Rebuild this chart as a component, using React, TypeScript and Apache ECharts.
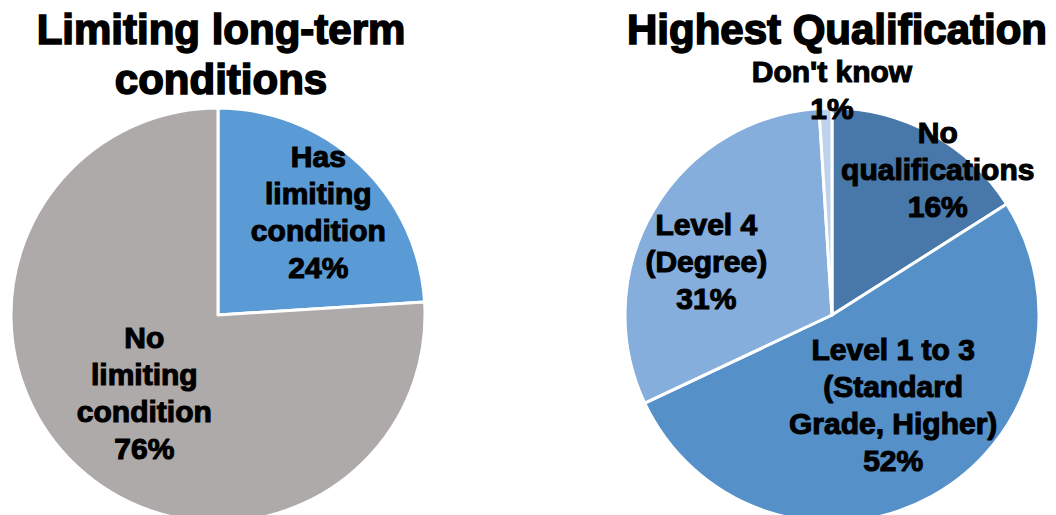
import React, { useEffect, useRef } from "react";
import * as echarts from "echarts";

// ---- data ----
const conditionTitle = "Limiting long-term\nconditions";
const conditionNames = ["Has\nlimiting\ncondition", "No\nlimiting\ncondition"];
const conditionValues = [24, 76];
const conditionColors = ["#5b9bd5", "#aeaaaa"];

const qualificationTitle = "Highest Qualification";
const qualificationNames = [
  "No\nqualifications",
  "Level 1 to 3\n(Standard\nGrade, Higher)",
  "Level 4\n(Degree)",
  "Don't know",
];
const qualificationValues = [16, 52, 31, 1];
const qualificationColors = ["#4878aa", "#5591c8", "#85aedc", "#bed2eb"];

// ---- layout / style ----
const RADIUS = 207;
const CENTER_LEFT = [218, 315];
const CENTER_RIGHT = [832, 315];
// [radial fraction of radius, nudge x, nudge y] for each label
const conditionLabelPlace = [
  [0.68, 4, 0],
  [0.52, 0, 0],
];
const qualificationLabelPlace = [
  [0.86, 20, 11],
  [0.523, 9, -5],
  [0.655, -9, 16],
  [1.087, 7, 0],
];

const FONT = "'Liberation Sans', Arial, Helvetica, sans-serif";

function placeLabel(values: number[], center: number[], place: number[][]) {
  const total = values.reduce((a, b) => a + b, 0);
  return (params: any) => {
    const i = params.dataIndex;
    let cum = 0;
    for (let j = 0; j < i; j++) cum += values[j];
    const mid = ((cum + values[i] / 2) / total) * Math.PI * 2;
    const [k, nx, ny] = place[i];
    return {
      x: center[0] + Math.sin(mid) * k * RADIUS + nx,
      y: center[1] - Math.cos(mid) * k * RADIUS + ny,
      align: "center",
      verticalAlign: "middle",
    };
  };
}

function pieSeries(
  names: string[],
  values: number[],
  colors: string[],
  center: number[],
  place: number[][]
) {
  return {
    type: "pie",
    center,
    radius: [0, RADIUS],
    startAngle: 90,
    clockwise: true,
    silent: true,
    avoidLabelOverlap: false,
    emphasis: { disabled: true },
    itemStyle: { borderColor: "#ffffff", borderWidth: 3 },
    label: {
      show: true,
      position: "inside",
      formatter: "{b}\n{c}%",
      color: "#000000",
      fontFamily: FONT,
      fontWeight: "bold",
      fontSize: 30,
      lineHeight: 37,
      align: "center",
      textBorderColor: "#000000",
      textBorderWidth: 1.1,
    },
    labelLine: { show: false },
    labelLayout: placeLabel(values, center, place),
    data: names.map((n, i) => ({
      name: n,
      value: values[i],
      itemStyle: { color: colors[i] },
    })),
  };
}

export default function App() {
  const ref = useRef<HTMLDivElement>(null);
  useEffect(() => {
    if (!ref.current) return;
    const chart = echarts.init(ref.current, undefined, { renderer: "svg" });
    const titleStyle = {
      fontFamily: FONT,
      fontWeight: "bold",
      fontSize: 42,
      lineHeight: 50,
      color: "#000000",
      textBorderColor: "#000000",
      textBorderWidth: 1.6,
    };
    chart.setOption({
      animation: false,
      backgroundColor: "#ffffff",
      title: [
        {
          text: conditionTitle,
          left: 221,
          top: 4,
          textAlign: "center",
          padding: 0,
          textStyle: titleStyle,
        },
        {
          text: qualificationTitle,
          left: 837,
          top: 4,
          textAlign: "center",
          padding: 0,
          textStyle: titleStyle,
        },
      ],
      series: [
        pieSeries(conditionNames, conditionValues, conditionColors, CENTER_LEFT, conditionLabelPlace),
        pieSeries(
          qualificationNames,
          qualificationValues,
          qualificationColors,
          CENTER_RIGHT,
          qualificationLabelPlace
        ),
      ],
    });
    return () => chart.dispose();
  }, []);
  return (
    <div
      ref={ref}
      style={{ position: "fixed", left: 0, top: 0, width: 1056, height: 515 }}
    />
  );
}
